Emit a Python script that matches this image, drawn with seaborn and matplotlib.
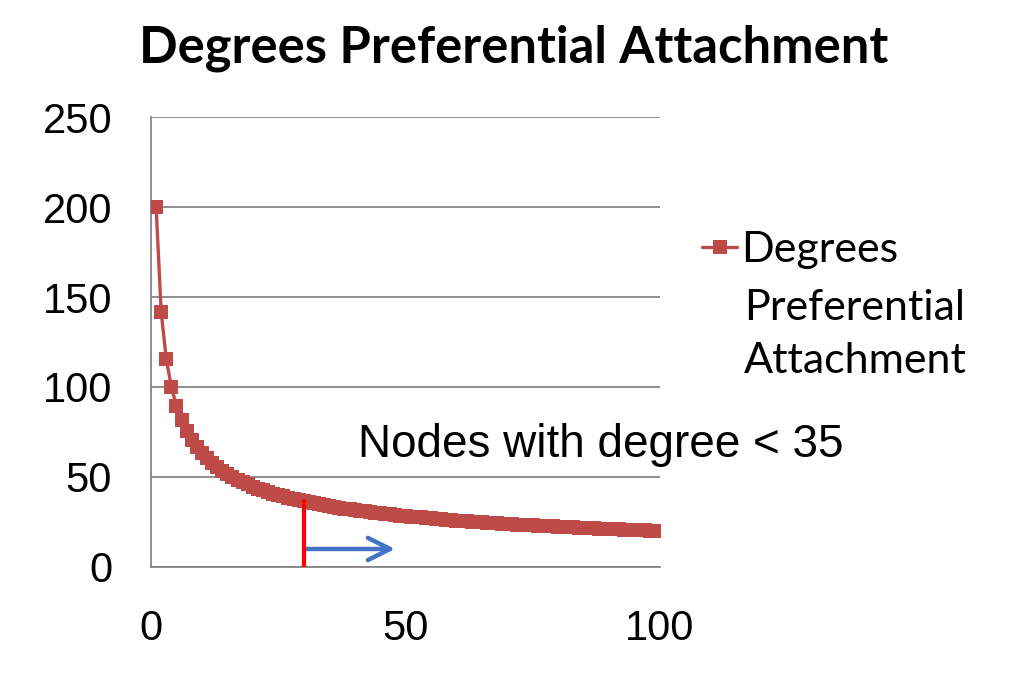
import numpy as np
import pandas as pd
import seaborn as sns
import matplotlib.pyplot as plt

# degree rank (x) and node degree (y)
ranks = list(range(1, 101))
degrees = [
    200.0, 141.4, 115.5, 100.0, 89.4, 81.6, 75.6, 70.7, 66.7, 63.2,
    60.3, 57.7, 55.5, 53.5, 51.6, 50.0, 48.5, 47.1, 45.9, 44.7,
    43.6, 42.6, 41.7, 40.8, 40.0, 39.2, 38.5, 37.8, 37.1, 36.5,
    35.9, 35.4, 34.8, 34.3, 33.8, 33.3, 32.9, 32.4, 32.0, 31.6,
    31.2, 30.9, 30.5, 30.2, 29.8, 29.5, 29.2, 28.9, 28.6, 28.3,
    28.0, 27.7, 27.5, 27.2, 27.0, 26.7, 26.5, 26.3, 26.0, 25.8,
    25.6, 25.4, 25.2, 25.0, 24.8, 24.6, 24.4, 24.3, 24.1, 23.9,
    23.7, 23.6, 23.4, 23.2, 23.1, 22.9, 22.8, 22.6, 22.5, 22.4,
    22.2, 22.1, 22.0, 21.8, 21.7, 21.6, 21.4, 21.3, 21.2, 21.1,
    21.0, 20.9, 20.7, 20.6, 20.5, 20.4, 20.3, 20.2, 20.1, 20.0,
]
cutoff_x = 30
cutoff_y = 36.5
arrow_end_x = 48.5
arrow_y = 10

sns.set_theme(style="white")
plt.rcParams["font.family"] = ["Liberation Sans", "DejaVu Sans"]
plt.rcParams["text.color"] = "black"

df = pd.DataFrame({"rank": ranks, "degree": degrees})

fig = plt.figure(figsize=(10.24, 6.88), dpi=100)
ax = fig.add_axes([0.1475, 0.1759, 0.497, 0.654])

sns.lineplot(data=df, x="rank", y="degree", ax=ax, color="#BE4B48",
             marker="s", markersize=9.5, markeredgewidth=0, linewidth=2.4,
             label="Degrees", zorder=3)

ax.set_xlim(0, 100)
ax.set_ylim(0, 250)
ax.set_xticks([0, 50, 100])
ax.set_yticks(np.arange(0, 251, 50))
ax.set_xlabel("")
ax.set_ylabel("")

ax.yaxis.grid(True, color="#868686", linewidth=1.3)
ax.xaxis.grid(False)
for side in ["top", "right"]:
    ax.spines[side].set_visible(False)
for side in ["left", "bottom"]:
    ax.spines[side].set_color("#868686")
    ax.spines[side].set_linewidth(1.3)
ax.tick_params(axis="both", which="major", labelsize=30, colors="#868686",
               labelcolor="black", length=10, width=1.3, direction="out")
ax.tick_params(axis="x", pad=20)
ax.tick_params(axis="y", pad=18)

# cutoff marker and arrow
ax.plot([cutoff_x, cutoff_x], [0, cutoff_y], color="red", linewidth=3, zorder=4)
ax.annotate("", xy=(arrow_end_x, arrow_y), xytext=(cutoff_x, arrow_y),
            arrowprops=dict(arrowstyle="->", color="#4472C4", lw=3.2,
                            mutation_scale=40))
ax.text(40.7, 68, "Nodes with degree < 35", fontsize=33, va="center",
        ha="left", clip_on=False)

fig.suptitle("Degrees Preferential Attachment", x=0.502, y=0.93, va="center",
             fontsize=36.5, fontweight="bold", family=["Lato", "DejaVu Sans"])

ax.legend().remove()
handles, labels = ax.get_legend_handles_labels()
fig.legend(handles, labels, loc="center left", bbox_to_anchor=(0.686, 0.6366),
           bbox_transform=fig.transFigure, frameon=False,
           prop={"family": ["Lato", "DejaVu Sans"], "size": 31},
           handlelength=0.8, handletextpad=0.1, borderaxespad=0, borderpad=0)
fig.text(0.7265, 0.5135, "Preferential\nAttachment", fontsize=31,
         family=["Lato", "DejaVu Sans"], va="center", ha="left",
         linespacing=1.5)

fig.savefig("out.png", dpi=100)
